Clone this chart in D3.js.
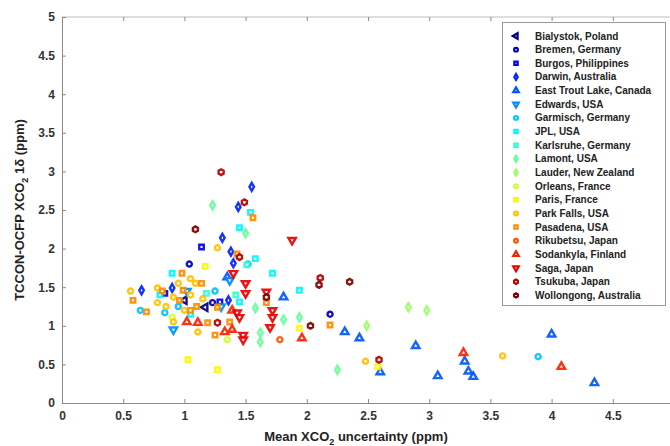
<!DOCTYPE html>
<html><head><meta charset="utf-8">
<script src="https://cdn.jsdelivr.net/npm/d3@7"></script>
<style>
body{margin:0;background:#fff;}
text{font-family:"Liberation Sans",Arial,Helvetica,sans-serif;}
</style></head>
<body><svg id="c" width="670" height="446"></svg>
<script>
// ---- data (x = mean XCO2 uncertainty, y = TCCON-OCFP 1δ) ----
const sites = ["Bialystok, Poland","Bremen, Germany","Burgos, Philippines","Darwin, Australia","East Trout Lake, Canada","Edwards, USA","Garmisch, Germany","JPL, USA","Karlsruhe, Germany","Lamont, USA","Lauder, New Zealand","Orleans, France","Paris, France","Park Falls, USA","Pasadena, USA","Rikubetsu, Japan","Sodankyla, Finland","Saga, Japan","Tsukuba, Japan","Wollongong, Australia"];
const markers = ["<","o","s","d","^","v","o","s","s","d","d","o","s","o","s","o","^","v","h","h"];
const bialystok = [[1.00,1.33],[1.17,1.24]];
const bremen = [[1.04,1.80],[2.19,1.15],[1.23,1.30]];
const burgos = [[1.14,2.02],[1.29,1.31],[0.84,1.42]];
const darwin = [[1.55,2.80],[1.44,2.54],[1.31,2.14],[1.40,1.81],[1.38,1.96],[1.36,1.33],[0.90,1.49],[0.65,1.46]];
const eastTroutLake = [[1.81,1.37],[2.31,0.92],[2.43,0.84],[2.60,0.40],[2.89,0.74],[3.07,0.35],[3.29,0.54],[3.32,0.41],[3.36,0.34],[4.00,0.89],[4.35,0.26],[1.35,1.63]];
const edwards = [[1.37,1.59],[0.91,0.95],[1.30,1.25],[1.02,1.45]];
const garmisch = [[3.89,0.60],[1.52,1.80],[0.84,1.17],[0.64,1.20],[1.25,1.45],[0.95,1.25]];
const jpl = [[1.54,2.47],[1.45,2.27],[1.58,1.87],[1.94,1.46],[0.90,1.68],[1.72,1.68],[1.45,1.31],[0.80,1.40],[1.05,1.15]];
const karlsruhe = [[1.51,1.79],[1.18,1.42],[1.42,1.40]];
const lamont = [[1.23,2.56],[1.50,2.20],[1.81,1.08],[1.94,1.11],[2.25,0.43],[1.62,0.91],[1.62,0.79],[1.58,1.23]];
const lauder = [[2.83,1.24],[2.98,1.20],[2.49,1.00]];
const orleans = [[1.35,0.82],[0.90,1.11]];
const paris = [[1.17,1.77],[1.03,0.56],[1.27,0.43],[1.94,0.97],[2.58,0.47]];
const parkFalls = [[2.48,0.54],[3.60,0.61],[1.27,2.01],[1.05,1.61],[1.09,1.55],[0.78,1.49],[0.91,1.37],[1.05,1.40],[0.78,1.30],[1.00,1.20],[0.91,1.05],[1.11,0.92],[0.56,1.45],[0.85,1.25],[1.15,1.35],[0.95,1.55]];
const pasadena = [[1.56,2.40],[1.43,1.93],[0.98,1.68],[1.14,1.55],[0.99,1.46],[0.96,1.33],[1.05,1.20],[1.27,1.24],[1.19,1.04],[1.37,1.05],[1.25,0.88],[1.67,1.30],[2.19,1.01],[0.58,1.33],[0.69,1.18],[0.82,1.45],[1.10,1.25]];
const rikubetsu = [[1.78,0.82]];
const sodankyla = [[1.96,0.84],[3.28,0.65],[4.08,0.47],[1.02,1.05],[1.11,1.04],[1.33,0.92],[1.39,0.95],[1.39,1.20]];
const saga = [[1.88,2.11],[1.40,1.68],[1.50,1.55],[1.50,1.42],[1.67,1.44],[1.72,1.20],[1.72,1.11],[1.48,0.88],[1.70,0.98],[1.48,0.82],[1.43,1.17],[1.45,1.11]];
const tsukuba = [[1.30,2.99],[1.49,2.60],[1.45,1.89],[1.27,1.04],[2.11,1.62],[2.59,0.56]];
const wollongong = [[1.09,2.25],[2.10,1.53],[2.35,1.57],[2.03,1.00],[1.67,1.37]];
const siteValues = [bialystok,bremen,burgos,darwin,eastTroutLake,edwards,garmisch,jpl,karlsruhe,lamont,lauder,orleans,paris,parkFalls,pasadena,rikubetsu,sodankyla,saga,tsukuba,wollongong];
const xTicks = [0,0.5,1,1.5,2,2.5,3,3.5,4,4.5,5];
const xTickLabels = ["0","0.5","1","1.5","2","2.5","3","3.5","4","4.5",""];
const yTicks = [0,0.5,1,1.5,2,2.5,3,3.5,4,4.5,5];

// ---- jet colormap ----
function jet(t){
  const c = v => Math.max(0, Math.min(1, v));
  const r = c(1.5 - Math.abs(4*t - 3)), g = c(1.5 - Math.abs(4*t - 2)), b = c(1.5 - Math.abs(4*t - 1));
  return d3.rgb(r*255, g*255, b*255).formatHex();
}
const color = d3.scaleOrdinal().domain(sites).range(sites.map((s,i)=>jet(i/(sites.length-1))));

const svg = d3.select("#c");
const W = 670, H = 446;
const x = d3.scaleLinear().domain([0,5]).range([62,674]);
const y = d3.scaleLinear().domain([0,5]).range([403,17]);

// symbols
const hexagon = {draw(ctx,size){const r=Math.sqrt(size/2.598);for(let i=0;i<6;i++){const a=Math.PI/3*i+Math.PI/6;const px=r*Math.cos(a),py=r*Math.sin(a);i?ctx.lineTo(px,py):ctx.moveTo(px,py);}ctx.closePath();}};
function symbolFor(m){
  switch(m){
    case "o": return {type:d3.symbolCircle,rot:0,size:20};
    case "s": return {type:d3.symbolSquare,rot:0,size:20};
    case "d": return {type:d3.symbolDiamond,rot:0,size:18};
    case "^": return {type:d3.symbolTriangle,rot:0,size:24};
    case "v": return {type:d3.symbolTriangle,rot:180,size:24};
    case "<": return {type:d3.symbolTriangle,rot:-90,size:24};
    case "h": return {type:hexagon,rot:0,size:22};
  }
}

// axes frame
const axisColor = "#8a8a8a";
svg.append("line").attr("x1",x(0)).attr("x2",W).attr("y1",y(5)).attr("y2",y(5)).attr("stroke","#bdbdbd");
const xa = svg.append("g").attr("transform",`translate(0,${y(0)})`)
  .call(d3.axisBottom(x).tickValues(xTicks).tickSizeInner(-4).tickSizeOuter(0).tickPadding(8).tickFormat((d,i)=>xTickLabels[i]));
const ya = svg.append("g").attr("transform",`translate(${x(0)},0)`)
  .call(d3.axisLeft(y).tickValues(yTicks).tickSizeInner(-4).tickSizeOuter(0).tickPadding(7).tickFormat(d3.format("~g")));
// top ticks
svg.append("g").attr("transform",`translate(0,${y(5)})`)
  .call(d3.axisTop(x).tickValues(xTicks).tickSizeInner(-4).tickSizeOuter(0).tickFormat(""))
  .select(".domain").remove();
[xa,ya].forEach(g=>{
  g.select(".domain").attr("stroke",axisColor);
  g.selectAll(".tick text").attr("fill","#333").attr("font-size",12).attr("font-weight","bold")
    .style("font-family","'Liberation Sans',Arial,sans-serif");
});
svg.selectAll(".tick line").attr("stroke",axisColor);

// points
const pts = svg.append("g");
siteValues.forEach((vals,i)=>{
  const s = symbolFor(markers[i]);
  const col = color(sites[i]);
  pts.selectAll(null).data(vals).enter().append("path")
    .attr("d", d3.symbol().type(s.type).size(s.size))
    .attr("transform", d=>`translate(${x(d[0])},${y(d[1])}) rotate(${s.rot})`)
    .attr("fill","#fff").attr("stroke",col).attr("stroke-width",2.4).attr("opacity",0.92);
});

// legend
const lg = svg.append("g");
lg.append("rect").attr("x",502.5).attr("y",22.5).attr("width",163).attr("height",283)
  .attr("fill","#fff").attr("stroke","#9a9a9a").attr("stroke-width",1);
sites.forEach((s,i)=>{
  const yy = 36 + i*13.65;
  const sy = symbolFor(markers[i]);
  lg.append("path").attr("d", d3.symbol().type(sy.type).size(sy.size*0.55))
    .attr("transform",`translate(516,${yy}) rotate(${sy.rot})`)
    .attr("fill","#fff").attr("stroke",color(s)).attr("stroke-width",2.2);
  lg.append("text").attr("x",535).attr("y",yy+3.5).text(s)
    .attr("font-size",10).attr("font-weight","bold").attr("fill","#222");
});

// axis labels
const xl = svg.append("text").attr("x",356).attr("y",441).attr("text-anchor","middle")
  .attr("font-size",13).attr("font-weight","bold").attr("fill","#222");
xl.append("tspan").text("Mean XCO");
xl.append("tspan").text("2").attr("font-size",9).attr("dy",4);
xl.append("tspan").text(" uncertainty (ppm)").attr("dy",-4);

const yl = svg.append("text").attr("transform","translate(24,210) rotate(-90)").attr("text-anchor","middle")
  .attr("font-size",13).attr("font-weight","bold").attr("fill","#222");
yl.append("tspan").text("TCCON-OCFP XCO");
yl.append("tspan").text("2").attr("font-size",9).attr("dy",4);
yl.append("tspan").text(" 1δ (ppm)").attr("dy",-4);
</script></body></html>
